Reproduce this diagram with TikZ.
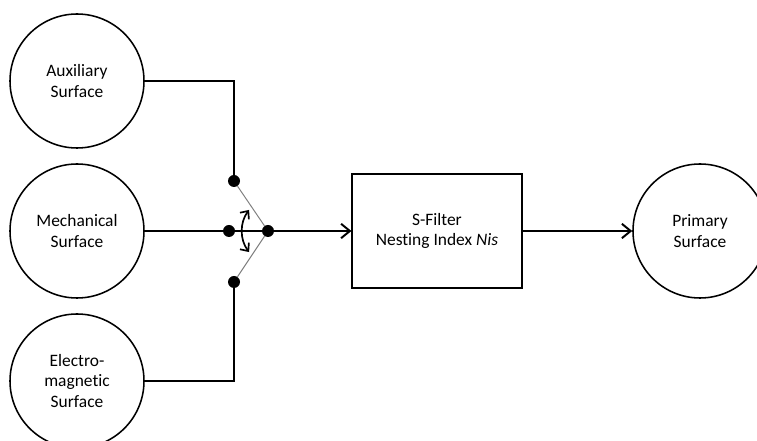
\documentclass[tikz,border=0pt]{standalone}
\usepackage{fontspec}
\setmainfont{Carlito}[Ligatures=NoCommon]
\usepackage{tikz}
\usetikzlibrary{shapes,calc,positioning,arrows.meta}

\tikzset{
  surface/.style={draw, circle, line width=1.1pt, minimum size=3.35cm, align=center, inner sep=0pt},
  tap/.style={fill=black, circle, inner sep=0pt, minimum size=0.3cm},
  wire/.style={line width=1.4pt},
}

\begin{document}
\begin{tikzpicture}[font=\fontsize{12.4}{14.5}\selectfont, >={Straight Barb[length=2.2mm,width=3.6mm]}]
   \useasboundingbox (0,0) rectangle (18.925,11.025);
   % sources on the left
   \node[surface] (aux) at (1.925,9.0) {Auxiliary\\Surface};
   \node[surface] (mech) at (1.925,5.25) {Mechanical\\Surface};
   \node[surface] (elec) at (1.925,1.5) {Electro-\\magnetic\\Surface};
   % switch contacts
   \node[tap] (top) at (5.85,6.5) {};
   \node[tap] (mid) at (5.725,5.25) {};
   \node[tap] (bot) at (5.85,3.975) {};
   \node[tap] (pivot) at (6.7,5.25) {};
   % filter and result
   \node[draw, line width=0.8pt, minimum width=4.25cm, minimum height=2.85cm, align=center] (filter) at (10.925,5.25) {S-Filter\\Nesting Index \textit{Nis}};
   \node[surface] (prim) at (17.5,5.25) {Primary\\Surface};
   \draw[wire] (aux.east) -| (top);
   \draw[wire] (elec.east) -| (bot);
   \draw[wire] (mech.east) -- (mid) -- (pivot);
   \draw[gray, line width=0.7pt] (top) -- (pivot) -- (bot);
   \draw[line width=1.2pt, {Straight Barb[length=1.6mm,width=2.8mm]}-{Straight Barb[length=1.6mm,width=2.8mm]}]
     ($(pivot)+(0.225,0)+(143:0.875)$) arc (143:217:0.875);
   \draw[wire, ->] (pivot) -- (filter.west);
   \draw[wire, ->] (filter.east) -- (prim.west);
\end{tikzpicture}
\end{document}
